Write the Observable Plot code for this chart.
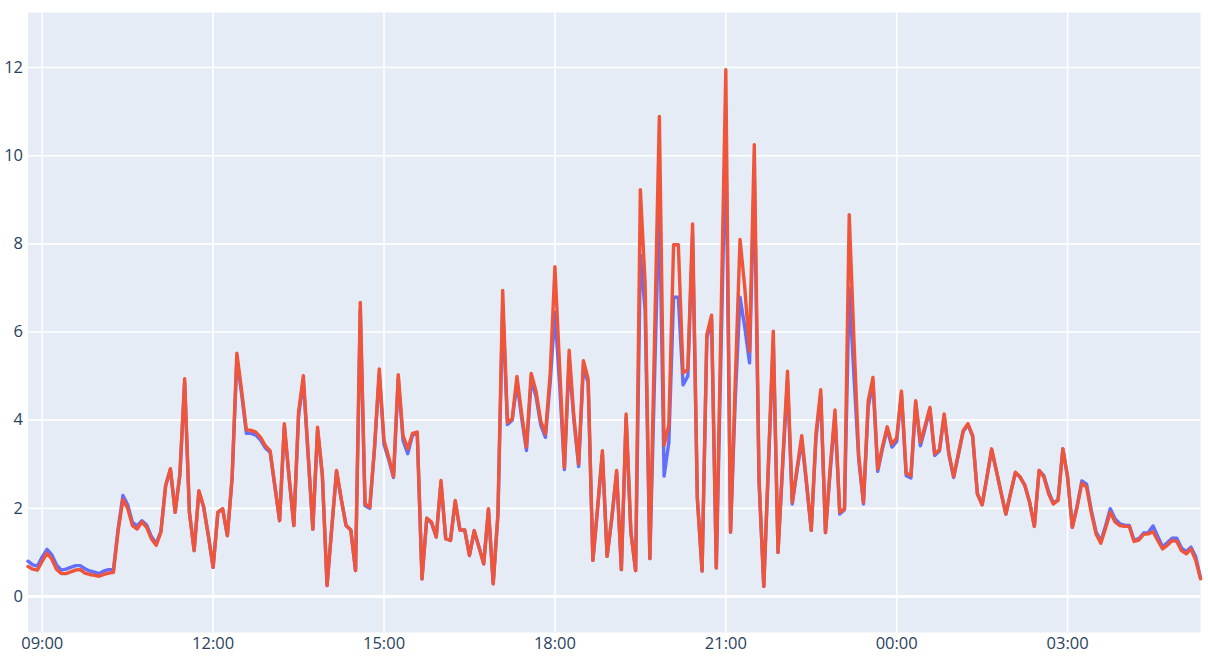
<!DOCTYPE html>
<html>
<head>
<meta charset="utf-8">
<script src="https://cdn.jsdelivr.net/npm/d3@7"></script>
<script src="https://cdn.jsdelivr.net/npm/@observablehq/plot@0.6"></script>
<style>
  html, body { margin: 0; padding: 0; background: #ffffff; }
  #chart svg { display: block; }
</style>
</head>
<body>
<div id="chart"></div>
<script>
// ---- data ----
const startTime = "2023-01-01T08:45:00Z";
const stepMinutes = 5;

const seriesBlue = [
  0.80,0.72,0.69,0.90,1.07,0.95,0.72,0.60,0.62,0.66,
  0.70,0.70,0.63,0.58,0.55,0.52,0.58,0.61,0.61,1.55,
  2.29,2.08,1.68,1.60,1.72,1.62,1.36,1.20,1.48,2.52,
  2.88,1.91,2.76,4.85,1.91,1.04,2.38,2.03,1.38,0.66,
  1.91,1.99,1.38,2.68,5.40,4.60,3.70,3.70,3.66,3.55,
  3.37,3.27,2.50,1.72,3.85,2.71,1.61,4.10,4.90,3.22,
  1.53,3.78,2.76,0.25,1.57,2.84,2.20,1.61,1.51,0.59,
  6.50,2.06,2.00,3.35,5.05,3.45,3.10,2.70,4.95,3.54,
  3.24,3.66,3.70,0.40,1.76,1.67,1.35,2.58,1.31,1.27,
  2.15,1.51,1.51,0.93,1.48,1.12,0.74,1.97,0.29,1.85,
  6.60,3.90,4.00,4.85,4.05,3.31,4.90,4.55,3.90,3.61,
  4.85,6.45,4.80,2.88,5.35,4.00,2.95,5.20,4.85,0.82,
  2.00,3.22,0.91,1.78,2.80,0.61,4.05,1.46,0.59,7.75,
  6.50,0.86,5.00,9.00,2.73,3.50,6.79,6.79,4.80,5.00,
  8.20,2.22,0.58,5.85,6.30,0.65,5.60,10.50,1.46,4.50,
  6.79,6.10,5.30,9.60,2.60,0.23,3.00,5.80,1.00,3.00,
  4.90,2.10,2.85,3.55,2.55,1.50,3.60,4.55,1.45,2.85,
  4.10,1.87,1.97,7.00,5.00,3.10,2.10,4.30,4.85,2.84,
  3.35,3.80,3.39,3.52,4.60,2.74,2.69,4.40,3.42,3.82,
  4.25,3.20,3.30,4.10,3.22,2.70,3.22,3.74,3.90,3.63,
  2.33,2.08,2.70,3.33,2.85,2.35,1.87,2.35,2.80,2.71,
  2.52,2.14,1.59,2.86,2.74,2.38,2.12,2.20,3.35,2.71,
  1.57,2.05,2.62,2.55,1.95,1.47,1.26,1.60,1.99,1.76,
  1.65,1.62,1.61,1.28,1.31,1.44,1.45,1.60,1.36,1.13,
  1.22,1.32,1.32,1.10,1.02,1.12,0.90,0.42
];

const seriesRed = [
  0.68,0.62,0.60,0.80,0.98,0.85,0.62,0.52,0.52,0.56,
  0.60,0.61,0.53,0.50,0.48,0.46,0.50,0.53,0.55,1.50,
  2.20,2.00,1.61,1.53,1.69,1.57,1.31,1.16,1.46,2.52,
  2.90,1.91,2.78,4.94,1.91,1.04,2.40,2.03,1.38,0.66,
  1.91,1.99,1.38,2.71,5.52,4.67,3.78,3.77,3.73,3.61,
  3.42,3.31,2.52,1.72,3.92,2.71,1.61,4.18,5.01,3.27,
  1.53,3.84,2.78,0.25,1.57,2.86,2.20,1.61,1.51,0.59,
  6.67,2.10,2.03,3.39,5.16,3.54,3.16,2.72,5.03,3.65,
  3.35,3.70,3.73,0.40,1.78,1.69,1.35,2.63,1.31,1.27,
  2.18,1.51,1.51,0.93,1.50,1.12,0.74,1.99,0.29,1.88,
  6.94,3.95,4.03,4.99,4.14,3.39,5.06,4.67,3.99,3.69,
  5.05,7.48,5.20,2.93,5.59,4.07,3.01,5.35,4.94,0.82,
  2.03,3.31,0.91,1.80,2.86,0.61,4.14,1.46,0.59,9.23,
  7.10,0.86,5.90,10.89,3.43,3.90,7.98,7.98,5.07,5.15,
  8.45,2.26,0.58,5.94,6.38,0.65,6.30,11.95,1.46,4.90,
  8.10,7.00,5.56,10.25,2.68,0.23,3.10,6.02,1.00,3.10,
  5.11,2.14,2.90,3.65,2.60,1.50,3.70,4.69,1.45,2.93,
  4.23,1.91,1.99,8.66,5.80,3.20,2.14,4.44,4.97,2.89,
  3.40,3.85,3.46,3.60,4.66,2.80,2.74,4.44,3.50,3.88,
  4.29,3.24,3.33,4.14,3.24,2.72,3.24,3.76,3.92,3.65,
  2.33,2.08,2.70,3.35,2.85,2.35,1.87,2.35,2.82,2.71,
  2.52,2.14,1.59,2.86,2.71,2.33,2.10,2.18,3.35,2.71,
  1.57,2.03,2.57,2.48,1.90,1.42,1.21,1.55,1.91,1.69,
  1.61,1.59,1.59,1.25,1.28,1.41,1.42,1.47,1.27,1.08,
  1.16,1.27,1.25,1.04,0.97,1.08,0.82,0.40
];

const xTickLabels = [
  "2023-01-01T09:00:00Z", "2023-01-01T12:00:00Z", "2023-01-01T15:00:00Z",
  "2023-01-01T18:00:00Z", "2023-01-01T21:00:00Z", "2023-01-02T00:00:00Z",
  "2023-01-02T03:00:00Z"
];
const yTicks = [0, 2, 4, 6, 8, 10, 12];

// ---- build ----
const t0 = new Date(startTime).getTime();
const times = seriesRed.map((_, i) => new Date(t0 + i * stepMinutes * 60000));
const xTicks = xTickLabels.map(s => new Date(s));
const fmt = d3.utcFormat("%H:%M");

const chart = Plot.plot({
  width: 1208,
  height: 662,
  marginLeft: 27.5,
  marginRight: 8,
  marginTop: 12,
  marginBottom: 30,
  style: {
    fontFamily: "'Open Sans', 'Noto Sans', sans-serif",
    fontSize: "16.5px",
    color: "#2a3f5f",
    background: "#ffffff"
  },
  x: { type: "utc", domain: [times[0], times[times.length - 1]] },
  y: { domain: [-0.8166, 13.248] },
  marks: [
    Plot.frame({ fill: "#E5ECF6", stroke: null }),
    Plot.gridX(xTicks, { stroke: "#ffffff", strokeOpacity: 1, strokeWidth: 1.6 }),
    Plot.gridY(yTicks, { stroke: "#ffffff", strokeOpacity: 1, strokeWidth: 1.6 }),
    Plot.ruleY([0], { stroke: "#ffffff", strokeWidth: 3 }),
    Plot.axisX(xTicks, { tickSize: 0, tickPadding: 5, tickFormat: fmt, label: null, fontSize: 16.5 }),
    Plot.axisY(yTicks, { tickSize: 0, tickPadding: 5, label: null, fontSize: 16.5 }),
    Plot.line(seriesBlue, { x: (d, i) => times[i], y: d => d, stroke: "#636EFA", strokeWidth: 3.4 }),
    Plot.line(seriesRed, { x: (d, i) => times[i], y: d => d, stroke: "#EF553B", strokeWidth: 3.4 })
  ]
});

document.getElementById("chart").appendChild(chart);
</script>
</body>
</html>
